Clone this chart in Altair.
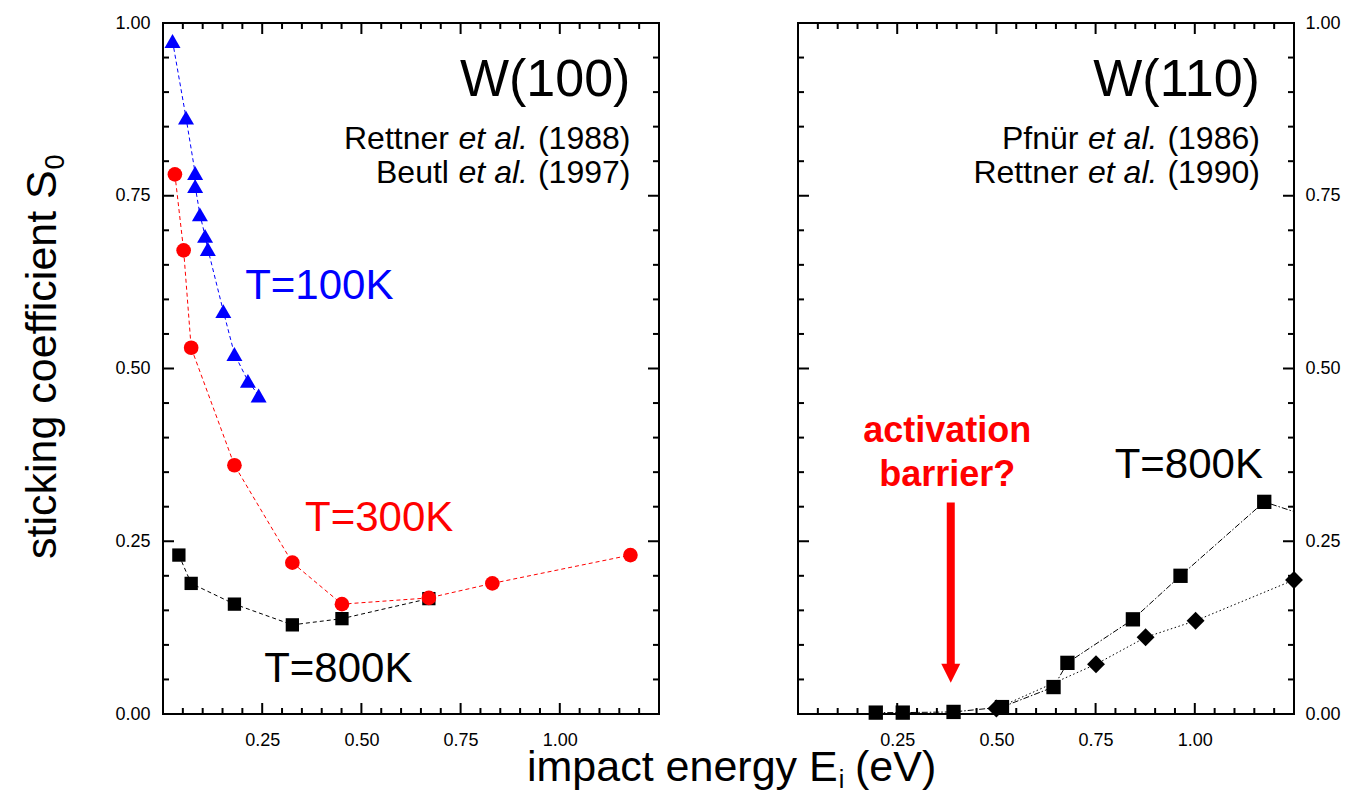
import altair as alt
import pandas as pd

FONT = "Liberation Sans"

# ---------------- data: W(100) ----------------
t100_x = [0.024, 0.058, 0.081, 0.081, 0.093, 0.106, 0.113, 0.152, 0.180, 0.214, 0.241]
t100_y = [0.974, 0.863, 0.783, 0.764, 0.723, 0.692, 0.673, 0.583, 0.521, 0.482, 0.461]

t300_x = [0.030, 0.052, 0.071, 0.180, 0.326, 0.451, 0.670, 0.830, 1.178]
t300_y = [0.781, 0.671, 0.530, 0.360, 0.219, 0.159, 0.168, 0.189, 0.230]

t800_x = [0.040, 0.071, 0.180, 0.326, 0.451, 0.670]
t800_y = [0.230, 0.189, 0.159, 0.129, 0.138, 0.167]

# ---------------- data: W(110) ----------------
sq_x = [0.196, 0.264, 0.392, 0.514, 0.644, 0.679, 0.844, 0.964, 1.175, 1.35]
sq_y = [0.002, 0.002, 0.003, 0.010, 0.039, 0.074, 0.137, 0.200, 0.307, 0.274]

dia_x = [0.500, 0.751, 0.876, 1.002, 1.250]
dia_y = [0.008, 0.072, 0.111, 0.135, 0.194]

# arrow (activation barrier?)
arrow_x = [0.385]
arrow_top = [0.306]
arrow_base = [0.07]
arrow_head_y = [0.059]

# ---------------- axes ----------------
x_domain = [0, 1.25]
y_domain = [0, 1]
x_labels = [0.25, 0.5, 0.75, 1.0]
y_labels = [0.0, 0.25, 0.5, 0.75, 1.0]
x_major = [0.25, 0.5, 0.75, 1.0]
y_major = [0.25, 0.5, 0.75]
x_minor = [round(0.05 * i, 2) for i in range(1, 25) if i % 5]
y_minor = [round(0.05 * i, 2) for i in range(1, 20) if i % 5]

# ---------------- texts ----------------
left_title = "W(100)"
right_title = "W(110)"
left_refs = ["Rettner", "Beutl"]
left_years = ["(1988)", "(1997)"]
right_refs = ["Pfnür", "Rettner"]
right_years = ["(1986)", "(1990)"]
etal = "et al."

W, H = 496, 691
MAJ, MIN = 11, 6


def X(axis):
    return alt.X("x:Q", scale=alt.Scale(domain=x_domain, nice=False, zero=False),
                 axis=axis, title=None)


def Y(axis):
    return alt.Y("y:Q", scale=alt.Scale(domain=y_domain, nice=False, zero=False),
                 axis=axis, title=None)


xaxis = alt.Axis(values=x_labels, format=".2f", ticks=False, domain=False, grid=False,
                 labelPadding=17, labelFlush=False, labelOverlap=False)
yaxis_left = alt.Axis(values=y_labels, format=".2f", ticks=False, domain=False, grid=False,
                      labelPadding=13, labelFlush=False, labelOverlap=False, orient="left")
yaxis_right = alt.Axis(values=y_labels, format=".2f", ticks=False, domain=False, grid=False,
                       labelPadding=11, labelFlush=False, labelOverlap=False, orient="right")


def tick_layers(xa, ya):
    layers = []
    for vals, ln in ((x_major, MAJ), (x_minor, MIN)):
        df = pd.DataFrame({"x": vals})
        layers.append(alt.Chart(df).mark_rule(color="black", strokeWidth=2).encode(
            x=X(xa), y=alt.value(H), y2=alt.value(H - ln)))
        layers.append(alt.Chart(df).mark_rule(color="black", strokeWidth=2).encode(
            x=X(xa), y=alt.value(0), y2=alt.value(ln)))
    for vals, ln in ((y_major, MAJ), (y_minor, MIN)):
        df = pd.DataFrame({"y": vals})
        layers.append(alt.Chart(df).mark_rule(color="black", strokeWidth=2).encode(
            y=Y(ya), x=alt.value(0), x2=alt.value(ln)))
        layers.append(alt.Chart(df).mark_rule(color="black", strokeWidth=2).encode(
            y=Y(ya), x=alt.value(W), x2=alt.value(W - ln)))
    return layers


def series(xs, ys, color, shape, size, dash, xa, ya):
    df = pd.DataFrame({"x": xs, "y": ys})
    line = alt.Chart(df).mark_line(color=color, strokeWidth=1, strokeDash=dash, clip=True).encode(
        x=X(xa), y=Y(ya))
    pts = alt.Chart(df).mark_point(shape=shape, size=size, filled=True, color=color,
                                   opacity=1, strokeWidth=0).encode(
        x=X(xa), y=Y(ya)).transform_filter(alt.datum.x <= 1.25)
    return [line, pts]


def dtext(xs, ys, texts, xa, ya, size, color="black", align="left", dx=0,
          style="normal", weight="normal"):
    df = pd.DataFrame({"x": xs, "y": ys, "t": texts})
    return alt.Chart(df).mark_text(font=FONT, fontSize=size, color=color, align=align,
                                   baseline="alphabetic", dx=dx, fontStyle=style,
                                   fontWeight=weight).encode(
        x=X(xa), y=Y(ya), text="t:N")


def ptext(px, py, s, size, angle=0, color="black"):
    df = pd.DataFrame({"t": [s]})
    return alt.Chart(df).mark_text(font=FONT, fontSize=size, color=color, align="left",
                                   baseline="alphabetic", angle=angle).encode(
        x=alt.value(px), y=alt.value(py), text="t:N")


def refs(names, years, ys, anchor, xa, ya):
    size = 32
    return [
        dtext([anchor] * len(ys), ys, years, xa, ya, size, align="right"),
        dtext([anchor] * len(ys), ys, [etal] * len(ys), xa, ya, size, align="right",
              dx=-102.5, style="italic"),
        dtext([anchor] * len(ys), ys, names, xa, ya, size, align="right", dx=-181.5),
    ]


# ---------------- left panel ----------------
xa, ya = xaxis, yaxis_left
left_layers = tick_layers(xa, ya)
left_layers += series(t800_x, t800_y, "black", "square", 177, [4, 3], xa, ya)
left_layers += series(t300_x, t300_y, "#ff0000", "circle", 215, [4, 3], xa, ya)
left_layers += series(t100_x, t100_y, "#0000ff", "triangle-up", 256, [4, 3], xa, ya)
left_layers += [
    dtext([1.178], [0.894], [left_title], xa, ya, 52, align="right"),
    dtext([0.207], [0.601], ["T=100K"], xa, ya, 42, color="#0000ff"),
    dtext([0.358], [0.265], ["T=300K"], xa, ya, 42, color="#ff0000"),
    dtext([0.255], [0.047], ["T=800K"], xa, ya, 42),
]
left_layers += refs(left_refs, left_years, [0.817, 0.769], 1.178, xa, ya)
# axis titles (with subscripts)
left_layers += [
    ptext(-107, 536, "sticking coefficient S", 43, angle=270),
    ptext(-99, 146.5, "0", 27, angle=270),
    ptext(364, 758, "impact energy E", 43),
    ptext(675.7, 764.5, "i", 25),
    ptext(692, 758, "(eV)", 43),
]
left = alt.layer(*left_layers).properties(width=W, height=H)

# ---------------- right panel ----------------
xa, ya = xaxis, yaxis_right
right_layers = tick_layers(xa, ya)
right_layers += series(dia_x, dia_y, "black", "diamond", 320, [1.5, 2.5], xa, ya)
right_layers += series(sq_x, sq_y, "black", "square", 205, [6, 2, 1.5, 2], xa, ya)
adf = pd.DataFrame({"x": arrow_x, "y": arrow_top, "y2": arrow_base})
right_layers += [
    alt.Chart(adf).mark_rule(color="#ff0000", strokeWidth=8).encode(
        x=X(xa), y=Y(ya), y2="y2:Q"),
    alt.Chart(pd.DataFrame({"x": arrow_x, "y": arrow_head_y})).mark_point(
        shape="M-1,-1L1,-1L0,1Z", size=361, filled=True, color="#ff0000",
        opacity=1, strokeWidth=0).encode(x=X(xa), y=Y(ya)),
    dtext([1.164], [0.895], [right_title], xa, ya, 52, align="right"),
    dtext([0.798], [0.341], ["T=800K"], xa, ya, 42),
    dtext([0.376, 0.376], [0.393, 0.330], ["activation", "barrier?"], xa, ya, 36,
          color="#ff0000", align="center", weight="bold"),
]
right_layers += refs(right_refs, right_years, [0.817, 0.769], 1.164, xa, ya)
right = alt.layer(*right_layers).properties(width=W, height=H)

chart = alt.hconcat(left, right, spacing=139, bounds="flush").properties(
    padding={"left": 20, "top": 13, "right": 0, "bottom": 6}
).configure_view(stroke="black", strokeWidth=2).configure_axis(
    labelFont=FONT, labelFontSize=18, labelColor="black"
).configure_text(font=FONT)

chart.save("out.html", embed_options={"renderer": "svg", "actions": False})
